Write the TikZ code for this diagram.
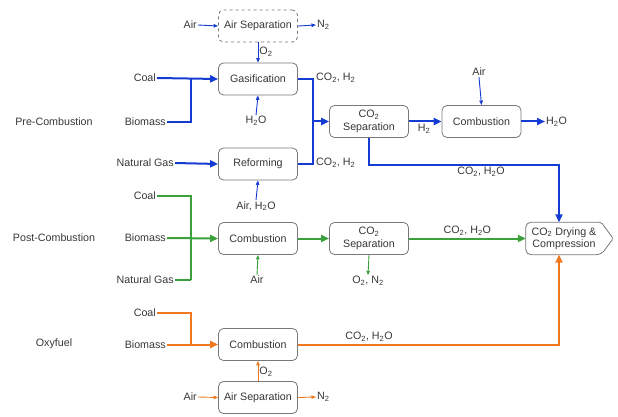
\documentclass[tikz,border=0pt]{standalone}
\usepackage{fontspec}
\setmainfont{Liberation Sans}
\usetikzlibrary{arrows.meta,calc}
\definecolor{fblue}{RGB}{20,60,210}
\definecolor{fgreen}{RGB}{60,160,60}
\definecolor{forange}{RGB}{240,120,30}
\definecolor{boxgray}{RGB}{120,120,120}
\definecolor{txt}{RGB}{55,55,55}
\begin{document}
\begin{tikzpicture}[x=1pt,y=-1pt,
  font=\fontsize{10.7}{12.5}\selectfont,
  box/.style={draw=boxgray, rounded corners=5pt, minimum width=79pt, minimum height=32pt, line width=0.8pt, align=center, text=txt, inner sep=0pt, fill=white},
  lbl/.style={text=txt, inner sep=1pt, align=center},
  bigtip/.style={-{Triangle[length=8pt,width=7pt]}},
  smalltip/.style={-{Triangle[length=4.5pt,width=3.5pt]}},
  fbl/.style={draw=fblue, line width=2pt},
  fgl/.style={draw=fgreen, line width=2pt},
  fol/.style={draw=forange, line width=2pt},
  tbl/.style={draw=fblue, line width=0.9pt, smalltip},
  tgl/.style={draw=fgreen, line width=0.9pt, smalltip},
  tol/.style={draw=forange, line width=0.9pt, smalltip},
]
\useasboundingbox (0,0) rectangle (618,417);

% ---------- boxes ----------
\node[box, dashed, minimum height=32pt] (asep1) at (258,26) {Air Separation};
\node[box] (gas) at (258,79) {Gasification};
\node[box, text width=70pt] (sep1) at (369,121.5) {CO\textsubscript{2}\\Separation};
\node[box] (comb1) at (481.5,121.5) {Combustion};
\node[box] (ref) at (258,164) {Reforming};
\node[box] (comb2) at (258,238.5) {Combustion};
\node[box, text width=70pt] (sep2) at (369,238.5) {CO\textsubscript{2}\\Separation};
\node[draw=none, minimum width=76pt, minimum height=32pt, inner sep=0pt, align=center, text=txt] (dry) at (564,238.5) {CO\textsubscript{2} Drying \&\\Compression};
\draw[draw=boxgray, line width=0.8pt, rounded corners=5pt]
  ([xshift=-1pt]dry.north east) -- (dry.north west) -- (dry.south west) -- ([xshift=-1pt]dry.south east)
  [rounded corners=1.5pt] -- ([xshift=11pt]dry.east) -- cycle;
\node[box] (comb3) at (258,344.5) {Combustion};
\node[box] (asep2) at (258,397.5) {Air Separation};

% ---------- category labels ----------
\node[lbl] (pre) at (54,122) {Pre-Combustion};
\node[lbl] (post) at (54,238) {Post-Combustion};
\node[lbl] (oxy) at (54,344) {Oxyfuel};

% ---------- pre-combustion ----------
\node[lbl, anchor=east] (air1) at (198,25) {Air};
\node[lbl, anchor=west] (n2a) at (316,25) {N\textsubscript{2}};
\draw[tbl] (air1.east) -- (asep1.west);
\draw[tbl] (asep1.east) -- (n2a.west);
\draw[tbl] (asep1.south) -- node[lbl, anchor=west, pos=0.45] (o2a) {O\textsubscript{2}} (gas.north);

\node[lbl, anchor=east] (coal1) at (157,78) {Coal};
\node[lbl, anchor=east] (bio1) at (167,122) {Biomass};
\coordinate (j1) at (191,79);
\draw[fbl, line join=miter] (bio1.east) -| (j1);
\draw[fbl, bigtip] (coal1.east) -- (gas.west);
\node[lbl] (h2oa) at (256,121) {H\textsubscript{2}O};
\draw[tbl] (h2oa.north) -- (gas.south);

\node[lbl, anchor=east] (ng1) at (175,163) {Natural Gas};
\draw[fbl, bigtip] (ng1.east) -- (ref.west);
\node[lbl] (airh2o) at (256,206) {Air, H\textsubscript{2}O};
\draw[tbl] (airh2o.north) -- (ref.south);

\coordinate (j2) at (313,121.5);
\draw[fbl, line join=miter] (gas.east) -| (j2) |- (ref.east);
\draw[fbl, bigtip] (j2) -- (sep1.west);
\node[lbl, anchor=west] (coh1) at (315,78) {CO\textsubscript{2}, H\textsubscript{2}};
\node[lbl, anchor=west] (coh2) at (315,163) {CO\textsubscript{2}, H\textsubscript{2}};

\draw[fbl, bigtip] (sep1.east) -- (comb1.west);
\node[lbl] (h2) at (424,129) {H\textsubscript{2}};
\node[lbl, anchor=west] (h2ob) at (545,121.5) {H\textsubscript{2}O};
\draw[fbl, bigtip] (comb1.east) -- (h2ob.west);
\node[lbl] (air3) at (479,72) {Air};
\draw[tbl] (air3.south) -- (comb1.north);

\coordinate (j3) at (559,165);
\draw[fbl, line join=miter, bigtip] (sep1.south) |- (j3) -- (j3 |- dry.north);
\node[lbl] (coh2o1) at (481,171.5) {CO\textsubscript{2}, H\textsubscript{2}O};

% ---------- post-combustion ----------
\node[lbl, anchor=east] (coal2) at (157,196) {Coal};
\node[lbl, anchor=east] (bio2) at (167,238) {Biomass};
\node[lbl, anchor=east] (ng2) at (175,280) {Natural Gas};
\coordinate (j5) at (191,280);
\draw[fgl, line join=miter] (coal2.east) -| (j5);
\draw[fgl] (ng2.east) -- (j5);
\draw[fgl, bigtip] (bio2.east) -- (comb2.west);
\node[lbl] (air2) at (257,280) {Air};
\draw[tgl] (air2.north) -- (comb2.south);
\draw[fgl, bigtip] (comb2.east) -- (sep2.west);
\draw[fgl, bigtip] (sep2.east) -- node[lbl, above=1pt] (coh2o2) {CO\textsubscript{2}, H\textsubscript{2}O} (dry.west);
\node[lbl] (o2n2) at (368,281) {O\textsubscript{2}, N\textsubscript{2}};
\draw[tgl] (sep2.south) -- (o2n2.north);

% ---------- oxyfuel ----------
\node[lbl, anchor=east] (coal3) at (157,313) {Coal};
\node[lbl, anchor=east] (bio3) at (167,344.5) {Biomass};
\coordinate (j6) at (191,344.5);
\draw[fol, line join=miter] (coal3.east) -| (j6);
\draw[fol, bigtip] (bio3.east) -- (comb3.west);
\coordinate (j7) at (559,344.5);
\draw[fol, line join=miter, bigtip] (comb3.east) -- (j7) -- (j7 |- dry.south);
\node[lbl] (coh2o3) at (369,337) {CO\textsubscript{2}, H\textsubscript{2}O};
\draw[tol] (asep2.north) -- node[lbl, anchor=west, pos=0.45] (o2b) {O\textsubscript{2}} (comb3.south);
\node[lbl, anchor=east] (air4) at (198,397) {Air};
\node[lbl, anchor=west] (n2b) at (316,397) {N\textsubscript{2}};
\draw[tol] (air4.east) -- (asep2.west);
\draw[tol] (asep2.east) -- (n2b.west);
\end{tikzpicture}
\end{document}
